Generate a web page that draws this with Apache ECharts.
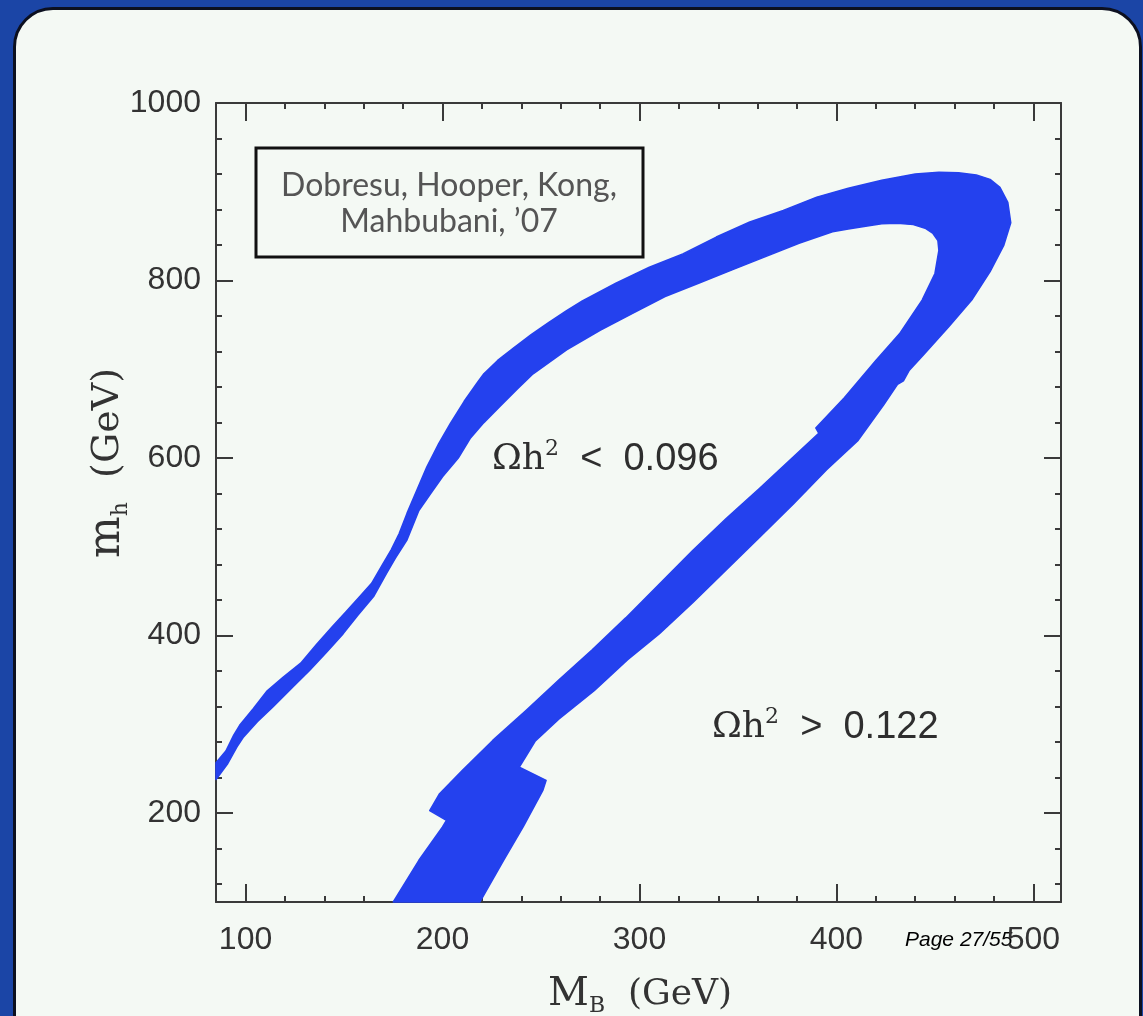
<!DOCTYPE html>
<html><head><meta charset="utf-8">
<script src="https://cdn.jsdelivr.net/npm/echarts@6/dist/echarts.min.js"></script>
<style>
html,body{margin:0;padding:0;width:1143px;height:1016px;overflow:hidden;background:#1b45a6;}
#panel{position:absolute;left:13px;top:7px;width:1129px;height:1060px;border-radius:40px;background:#f4f9f4;border:3px solid #0c1020;box-sizing:border-box;}
#chart{position:absolute;left:0;top:0;width:1143px;height:1016px;}
</style></head>
<body><div id="panel"></div><div id="chart"></div>
<script>
// ---- axis ranges and tick labels ----
const xMin = 85, xMax = 514;
const yMin = 100, yMax = 1000;
const xTickLabels = [100, 200, 300, 400, 500];
const yTickLabels = [200, 400, 600, 800, 1000];

// ---- allowed region boundary (M_B, m_h) ----
const leftBranchUpper = [
  [85, 257], [90, 270], [94, 288], [97, 299], [104, 318], [111, 338], [119, 353], [128, 369],
  [136, 390], [144, 410], [151, 427], [158, 444], [164, 459], [169, 478], [174, 497], [178, 515],
  [182, 538], [187, 564], [192, 590], [198, 616], [204, 639], [211, 664], [218, 686]
];
const arcOuter = [
  [221, 695], [228, 710], [236, 724], [245, 739], [254, 753], [263, 766], [271, 777], [288, 797],
  [305, 815], [322, 830], [339, 849], [356, 866], [373, 879], [390, 894], [406, 904], [423, 913],
  [440, 920], [452, 922], [462, 921.5], [471, 919], [478, 914], [483, 905], [487, 888], [488.5, 865],
  [485, 840], [478, 810], [469, 779], [457, 748], [444, 716]
];
const rightBranchOuter = [
  [437, 699], [434, 687], [431, 683], [424, 660], [411, 620], [395, 587], [378, 548], [361, 511],
  [344, 474], [327, 437], [310, 402], [294, 373], [277, 338], [259, 306], [247, 281], [239, 252],
  [252.6, 237], [251, 226], [241, 185], [231, 147], [219, 100]
];
const rightBranchInner = [
  [175, 100], [188, 147], [200, 184.5], [202, 192], [193.5, 203], [198.5, 222], [210, 248],
  [225.5, 282], [242.5, 316], [259, 350], [276, 384], [293, 420], [310, 458], [327, 496],
  [344, 532], [361, 566], [376, 597], [391, 628], [389.5, 634], [404, 668], [420, 710],
  [432, 740], [443.5, 778], [450, 808], [452, 834], [451.5, 845], [449, 853], [445, 859],
  [439, 863], [431, 864.5], [423, 864], [414, 861], [406, 858]
];
const arcInner = [
  [398, 855], [381, 842], [364, 827], [347, 812], [330, 797], [313, 782], [296.5, 763], [280, 744],
  [263, 722], [246, 695], [238, 678], [229, 658], [221, 640], [214, 622]
];
const leftBranchLower = [
  [208, 600], [200, 579], [194, 560], [188, 541], [182, 508], [176, 487], [171.5, 470], [165, 444],
  [157, 423], [149.5, 402], [141, 381], [132.6, 361], [123, 340], [114, 320], [106, 303], [99, 286],
  [96, 276], [91, 256], [85, 238]
];

const regionOutline = [].concat(leftBranchUpper, arcOuter, rightBranchOuter,
  rightBranchInner, arcInner, leftBranchLower);

const AX = '#3a3a3a';
const BLUE = '#2441ee';
const LBL = '#333333';

function xAxisDef(pos, showLabel) {
  return {
    type: 'value', position: pos, min: xMin, max: xMax, splitNumber: 5,
    minInterval: 100, maxInterval: 100,
    axisLine: { show: true, onZero: false, lineStyle: { color: AX, width: 2 } },
    axisTick: { show: true, inside: true, length: 18, lineStyle: { color: AX, width: 2 } },
    minorTick: { show: true, splitNumber: 5, length: 6, lineStyle: { color: AX, width: 2 } },
    axisLabel: {
      show: showLabel, margin: 22, color: LBL, fontSize: 32, fontFamily: 'Liberation Sans',
      formatter: v => xTickLabels.indexOf(v) >= 0 ? String(v) : ''
    },
    splitLine: { show: false }, minorSplitLine: { show: false }
  };
}
function yAxisDef(pos, showLabel) {
  return {
    type: 'value', position: pos, min: yMin, max: yMax, splitNumber: 5,
    minInterval: 200, maxInterval: 200,
    axisLine: { show: true, onZero: false, lineStyle: { color: AX, width: 2 } },
    axisTick: { show: true, inside: true, length: 17, lineStyle: { color: AX, width: 2 } },
    minorTick: { show: true, splitNumber: 5, length: 6, lineStyle: { color: AX, width: 2 } },
    axisLabel: {
      show: showLabel, margin: 15, color: LBL, fontSize: 32, fontFamily: 'Liberation Sans',
      formatter: v => yTickLabels.indexOf(v) >= 0 ? String(v) : ''
    },
    splitLine: { show: false }, minorSplitLine: { show: false }
  };
}

const serif = 'DejaVu Serif';
const sans = 'Liberation Sans';

const chart = echarts.init(document.getElementById('chart'), null, { renderer: 'canvas' });
chart.setOption({
  animation: false,
  backgroundColor: 'transparent',
  grid: { left: 216, right: 82, top: 103, bottom: 114 },
  xAxis: [xAxisDef('bottom', true), xAxisDef('top', false)],
  yAxis: [yAxisDef('left', true), yAxisDef('right', false)],
  series: [{
    type: 'custom',
    coordinateSystem: 'cartesian2d',
    xAxisIndex: 0, yAxisIndex: 0,
    silent: true,
    data: [regionOutline[0]],
    renderItem: function (params, api) {
      const pts = regionOutline.map(p => api.coord(p));
      return { type: 'polygon', shape: { points: pts },
        style: { fill: BLUE, stroke: BLUE, lineWidth: 1.5, lineJoin: 'round' } };
    }
  }],
  graphic: [
    { type: 'rect', shape: { x: 256, y: 148, width: 387, height: 109 },
      style: { fill: 'rgba(0,0,0,0)', stroke: '#111', lineWidth: 3 } },
    { type: 'text', x: 449, y: 186,
      style: { text: 'Dobresu, Hooper, Kong,', fontFamily: 'Lato', fontSize: 32, fill: '#555',
        textAlign: 'center', textVerticalAlign: 'middle' } },
    { type: 'text', x: 449, y: 222,
      style: { text: 'Mahbubani, \u201907', fontFamily: 'Lato', fontSize: 32, fill: '#555',
        textAlign: 'center', textVerticalAlign: 'middle' } },
    { type: 'text', x: 492, y: 460,
      style: {
        text: '{s|\u03A9h}{sup|2}{n|  <  0.096}', textAlign: 'left', textVerticalAlign: 'middle',
        rich: {
          s: { fontFamily: serif, fontSize: 36, lineHeight: 44, fill: '#2e2e2e' },
          sup: { fontFamily: serif, fontSize: 22, lineHeight: 22, verticalAlign: 'top', fill: '#2e2e2e' },
          n: { fontFamily: sans, fontSize: 38, lineHeight: 44, fill: '#2e2e2e' }
        }
      } },
    { type: 'text', x: 712, y: 728,
      style: {
        text: '{s|\u03A9h}{sup|2}{n|  >  0.122}', textAlign: 'left', textVerticalAlign: 'middle',
        rich: {
          s: { fontFamily: serif, fontSize: 36, lineHeight: 44, fill: '#2e2e2e' },
          sup: { fontFamily: serif, fontSize: 22, lineHeight: 22, verticalAlign: 'top', fill: '#2e2e2e' },
          n: { fontFamily: sans, fontSize: 38, lineHeight: 44, fill: '#2e2e2e' }
        }
      } },
    { type: 'text', x: 640, y: 995,
      style: {
        text: '{m|M}{sub|B}{g|  (GeV)}', textAlign: 'center', textVerticalAlign: 'middle',
        rich: {
          m: { fontFamily: serif, fontSize: 40, lineHeight: 44, fill: '#333' },
          sub: { fontFamily: serif, fontSize: 22, lineHeight: 22, verticalAlign: 'bottom', fill: '#333' },
          g: { fontFamily: serif, fontSize: 36, lineHeight: 44, fill: '#333' }
        }
      } },
    { type: 'text', x: 108, y: 463, rotation: Math.PI / 2,
      style: {
        text: '{m|m}{sub|h}{g|  (GeV)}', textAlign: 'center', textVerticalAlign: 'middle',
        rich: {
          m: { fontFamily: serif, fontSize: 44, lineHeight: 48, fill: '#333' },
          sub: { fontFamily: serif, fontSize: 22, lineHeight: 22, verticalAlign: 'bottom', fill: '#333' },
          g: { fontFamily: serif, fontSize: 38, lineHeight: 48, fill: '#333' }
        }
      } },
    { type: 'text', x: 905, y: 940,
      style: { text: 'Page 27/55', fontFamily: sans, fontStyle: 'italic', fontSize: 21, fill: '#000',
        textAlign: 'left', textVerticalAlign: 'middle' } }
  ]
});
</script></body></html>
